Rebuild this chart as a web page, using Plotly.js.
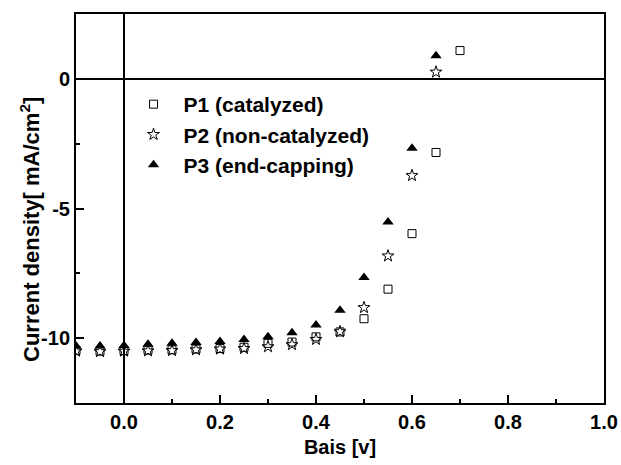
<!DOCTYPE html>
<html><head><meta charset="utf-8">
<script src="https://cdn.plot.ly/plotly-3.0.1.min.js"></script>
<style>body{margin:0;background:#fff}#c{width:621px;height:465px}</style>
</head><body><div id="c"></div>
<script>
const bias = [-0.1,-0.05,0,0.05,0.1,0.15,0.2,0.25,0.3,0.35,0.4,0.45,0.5,0.55,0.6,0.65,0.7];
const p1 = [-10.47,-10.5,-10.48,-10.46,-10.45,-10.42,-10.4,-10.35,-10.2,-10.15,-9.95,-9.76,-9.25,-8.11,-5.97,-2.84,1.09];
const p2 = [-10.5,-10.52,-10.5,-10.49,-10.48,-10.45,-10.42,-10.4,-10.33,-10.25,-10.05,-9.75,-8.82,-6.83,-3.73,0.26];
const p3 = [-10.3,-10.3,-10.28,-10.23,-10.2,-10.17,-10.13,-10.05,-9.95,-9.79,-9.49,-8.92,-7.66,-5.52,-2.68,0.89];
const names = ['P1 (catalyzed)','P2 (non-catalyzed)','P3 (end-capping)'];
const xTicks = [0,0.2,0.4,0.6,0.8,1.0];
const yTicks = [-10,-5,0];
const xTitle = 'Bais [v]';
const yTitle = 'Current density[ mA/cm<sup>2</sup>]';

const F = 'Arial, "Liberation Sans", sans-serif';
const traces = [
  {x: bias.slice(0,p1.length), y: p1, name: names[0], mode:'markers', type:'scatter',
   marker:{symbol:'square-open', size:8, color:'#000', line:{width:1}}},
  {x: bias.slice(0,p2.length), y: p2, name: names[1], mode:'markers', type:'scatter',
   marker:{symbol:'star-open', size:9, color:'#000', line:{width:1}}},
  {x: bias.slice(0,p3.length), y: p3, name: names[2], mode:'markers', type:'scatter',
   marker:{symbol:'triangle-up', size:10, color:'#000'}}
];
const axBase = {showline:true, linecolor:'#000', linewidth:2, mirror:true, ticks:'inside',
  ticklen:8, tickwidth:2, tickcolor:'#000', showgrid:false, zeroline:true,
  zerolinecolor:'#000', zerolinewidth:2,
  tickfont:{family:F, size:20, color:'#000', weight:'bold'}};
const layout = {
  width:621, height:465, paper_bgcolor:'#fff', plot_bgcolor:'#fff',
  margin:{l:76, r:17, t:14, b:62},
  showlegend:true,
  legend:{x:0.09, y:0.82, xanchor:'left', yanchor:'top', bgcolor:'rgba(0,0,0,0)',
    font:{family:F, size:21, color:'#000', weight:'bold'}, tracegroupgap:0, itemwidth:50},
  xaxis: Object.assign({}, axBase, {range:[-0.1,1.0], tickvals:xTicks, ticktext:xTicks.map(v=>v.toFixed(1)),
    minor:{dtick:0.1, tick0:0, ticks:'inside', ticklen:4, tickwidth:2, tickcolor:'#000'},
    title:{text:xTitle, font:{family:F, size:20, color:'#000', weight:'bold'}, standoff:8}}),
  yaxis: Object.assign({}, axBase, {range:[-12.5,2.5], tickvals:yTicks, ticktext:yTicks.map(String),
    minor:{dtick:2.5, tick0:0, ticks:'inside', ticklen:4, tickwidth:2, tickcolor:'#000'}}),
  annotations:[{text:yTitle, xref:'paper', yref:'paper', x:-0.087, y:0.445,
    xanchor:'center', yanchor:'middle', textangle:-90, showarrow:false,
    font:{family:F, size:22, color:'#000', weight:'bold'}}]
};
Plotly.newPlot('c', traces, layout, {displayModeBar:false, staticPlot:true});
</script></body></html>
